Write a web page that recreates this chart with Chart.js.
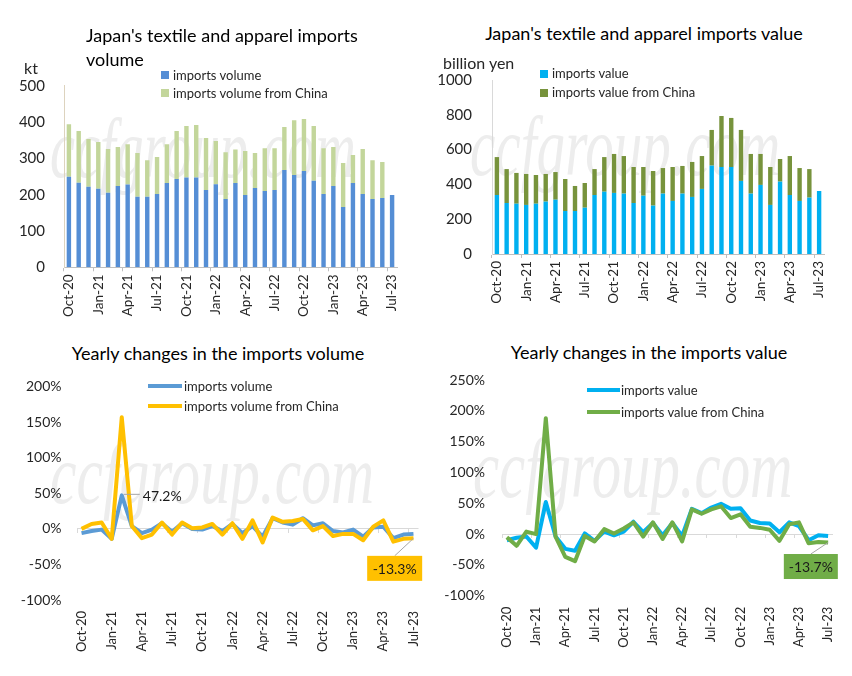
<!DOCTYPE html>
<html><head><meta charset="utf-8">
<script src="https://cdn.jsdelivr.net/npm/chart.js@4.4.0/dist/chart.umd.min.js"></script>
<style>
body{margin:0;background:#fff;width:852px;height:676px;overflow:hidden;position:relative;font-family:Lato,sans-serif;}
.abs{position:absolute;white-space:nowrap;}
canvas{position:absolute;}
.wm{position:absolute;font-family:'Liberation Serif',serif;font-style:italic;font-size:84px;color:#ededed;transform-origin:0 0;line-height:1;white-space:nowrap;}
.title{font-size:18px;color:#000;line-height:24px;}
.leg{font-size:13px;color:#262626;line-height:16px;}
.sq{position:absolute;width:8px;height:8px;}
.ln{position:absolute;height:4px;}
.unit{font-size:16px;color:#262626;line-height:18px;}
</style></head><body>

<div class="wm" style="left:50px;top:107px;transform:scaleX(0.67)">ccfgroup.com</div>
<div class="wm" style="left:470px;top:105px;transform:scaleX(0.68)">ccfgroup.com</div>
<div class="wm" style="left:50px;top:433px;transform:scaleX(0.71)">ccfgroup.com</div>
<div class="wm" style="left:473px;top:427px;transform:scaleX(0.70)">ccfgroup.com</div>

<canvas id="c1" width="430" height="270" style="left:0;top:60px"></canvas>
<canvas id="c2" width="422" height="270" style="left:430px;top:60px"></canvas>
<canvas id="c3" width="430" height="306" style="left:0;top:370px"></canvas>
<canvas id="c4" width="422" height="306" style="left:430px;top:370px"></canvas>

<div class="abs title" style="left:86px;top:23px">Japan's textile and apparel imports<br>volume</div>
<div class="abs title" style="left:444px;width:400px;text-align:center;top:21px">Japan's textile and apparel imports value</div>
<div class="abs title" style="left:18px;width:400px;text-align:center;top:341px">Yearly changes in the imports volume</div>
<div class="abs title" style="left:449px;width:400px;text-align:center;top:340px">Yearly changes in the imports value</div>

<div class="abs unit" style="left:24px;top:59px">kt</div>
<div class="abs unit" style="left:443px;top:54px">billion yen</div>

<div class="sq" style="left:161px;top:71px;background:#558ED5"></div>
<div class="abs leg" style="left:173px;top:67px">imports volume</div>
<div class="sq" style="left:161px;top:89px;background:#C3D69B"></div>
<div class="abs leg" style="left:173px;top:85px">imports volume from China</div>

<div class="sq" style="left:540px;top:70px;background:#00B0F0"></div>
<div class="abs leg" style="left:552px;top:65px">imports value</div>
<div class="sq" style="left:540px;top:89px;background:#77933C"></div>
<div class="abs leg" style="left:552px;top:84px">imports value from China</div>

<div class="ln" style="left:148px;top:384px;width:34px;background:#5B9BD5"></div>
<div class="abs leg" style="left:184px;top:378px">imports volume</div>
<div class="ln" style="left:148px;top:404px;width:34px;background:#FFC000"></div>
<div class="abs leg" style="left:184px;top:398px">imports volume from China</div>

<div class="ln" style="left:587px;top:388px;width:33px;background:#00B0F0"></div>
<div class="abs leg" style="left:621px;top:382px">imports value</div>
<div class="ln" style="left:587px;top:410px;width:33px;background:#70AD47"></div>
<div class="abs leg" style="left:621px;top:404px">imports value from China</div>

<script>
const months = ['Oct-20','Nov-20','Dec-20','Jan-21','Feb-21','Mar-21','Apr-21','May-21','Jun-21','Jul-21','Aug-21','Sep-21',
  'Oct-21','Nov-21','Dec-21','Jan-22','Feb-22','Mar-22','Apr-22','May-22','Jun-22','Jul-22','Aug-22','Sep-22',
  'Oct-22','Nov-22','Dec-22','Jan-23','Feb-23','Mar-23','Apr-23','May-23','Jun-23','Jul-23'];

// kt
const importsVolume = [249,233,222,216,205,224,228,194,194,202,232,243,247,247,213,229,188,232,199,218,210,213,268,254,265,238,202,224,166,232,202,188,191,199];
const importsVolumeChina = [145,142,131,129,121,107,111,121,101,102,107,132,142,145,143,119,129,92,121,97,118,115,118,151,143,151,126,107,121,77,124,107,99,null];

// billion yen
const importsValue = [339,293,289,282,289,301,312,247,247,266,339,358,351,347,293,335,278,347,305,347,328,374,508,500,500,420,347,397,282,416,339,305,324,362];
const importsValueChina = [218,195,177,178,165,159,159,184,144,142,149,199,224,216,207,165,199,147,195,159,201,189,205,293,282,293,228,178,218,130,224,189,164,null];

// yearly change, %
const volumeYoY = [-6,-3,-1,-14,47.2,4,-6,-1,8,-4,8,0,-1,4,-3,7,-6,4,-11,15,9,6,15,5,8,-3,-5,-1,-11,2,3,-13,-8,-7];
const volumeChinaYoY = [0,7,9,-14,157,4,-13,-8,9,-8,9,1,2,7,-8,8,-14,12,-19,16,10,11,14,-2,4,-10,-7,-7,-16,3,12,-18,-14,-13.3];
const valueYoY = [-10,-6,-4,-22,52,-4,-24,-27,1,-11,4,-2,4,20,3,18,-2,18,-3,41,34,43,49,41,42,22,18,17,3,19,13,-10,-2,-3];
const valueChinaYoY = [-5,-19,4,0,188,-4,-37,-44,-3,-12,8,1,9,19,-4,19,-8,19,-12,40,33,40,45,26,32,12,10,7,-11,16,19,-15,-13,-13.7];

const volTicks = [0,100,200,300,400,500];
const valTicks = [0,200,400,600,800,1000];

Chart.defaults.font.family = 'Lato, sans-serif';
Chart.defaults.color = '#262626';

function layout(box, plot){
  return {autoPadding:false, padding:{left:0, top:plot.t-box.top, right:box.left+box.w-plot.r, bottom:0}};
}
function xAxis(box, plot, size, pad, axisTicks){
  return {
    type:'category', offset:true, stacked:true,
    afterFit: s => { s.height = box.top+box.h-plot.b; s.paddingLeft = 0; s.paddingRight = 0; },
    border:{display:axisTicks, color:'#BFBFBF'},
    grid:{display:axisTicks, drawOnChartArea:false, drawTicks:true, tickLength:4, offset:true,
      color: c => (c.index%3===0 ? '#BFBFBF' : 'rgba(0,0,0,0)')},
    ticks:{autoSkip:false, minRotation:90, maxRotation:90, padding:pad, font:{size:size}, color:'#262626',
      callback: function(v,i){ return i%3===0 ? this.getLabelForValue(v) : ''; }}
  };
}
function yFit(box, plot){
  return s => { s.width = plot.l-box.left; s.paddingTop = 0; s.paddingBottom = 0; };
}

const zeroTicks = {
  id:'zeroTicks',
  beforeDatasetsDraw(chart){
    const xs = chart.scales.x, ys = chart.scales.y, ctx = chart.ctx;
    const y0 = Math.round(ys.getPixelForValue(0));
    const half = (xs.getPixelForValue(1)-xs.getPixelForValue(0))/2;
    ctx.save(); ctx.strokeStyle='#D9D9D9'; ctx.lineWidth=1;
    for(let i=0;i<xs.getLabels().length;i+=3){
      const x = Math.round(xs.getPixelForValue(i)-half)+0.5;
      ctx.beginPath(); ctx.moveTo(x,y0); ctx.lineTo(x,y0+4); ctx.stroke();
    }
    ctx.restore();
  }
};
const callout = {
  id:'callout',
  afterDatasetsDraw(chart, args, o){
    if(!o || !o.items) return;
    const ctx = chart.ctx;
    o.items.forEach(it => {
      const p = chart.getDatasetMeta(it.ds).data[it.i];
      const v = chart.data.datasets[it.ds].data[it.i];
      const text = v.toFixed(1)+'%';
      ctx.save();
      ctx.font = '14px Lato';
      ctx.strokeStyle = '#A6A6A6'; ctx.lineWidth = 1;
      if(it.box){
        const rx = p.x+it.dx, ry = p.y+it.dy;
        ctx.beginPath(); ctx.moveTo(p.x,p.y); ctx.lineTo(rx+it.w/2, ry); ctx.stroke();
        ctx.fillStyle = it.bg; ctx.fillRect(rx, ry, it.w, it.h);
        ctx.fillStyle = '#1a1a1a'; ctx.textAlign='center'; ctx.textBaseline='middle';
        ctx.fillText(text, rx+it.w/2, ry+it.h/2+1);
      } else {
        ctx.beginPath(); ctx.moveTo(p.x+2,p.y-1); ctx.lineTo(p.x+18,p.y-1); ctx.stroke();
        ctx.fillStyle = '#1a1a1a'; ctx.textAlign='left'; ctx.textBaseline='middle';
        ctx.fillText(text, p.x+21, p.y+1);
      }
      ctx.restore();
    });
  }
};

function barChart(id, box, plot, d1, d2, c1, c2, ticks, yColor, yPad){
  return new Chart(document.getElementById(id), {
    type:'bar',
    data:{labels:months, datasets:[
      {data:d1, backgroundColor:c1, barPercentage:0.45, categoryPercentage:1},
      {data:d2, backgroundColor:c2, barPercentage:0.45, categoryPercentage:1}
    ]},
    options:{
      responsive:false, animation:false, devicePixelRatio:1,
      layout:layout(box,plot),
      plugins:{legend:{display:false}, tooltip:{enabled:false}},
      scales:{
        x:xAxis(box,plot,13.5,3,true),
        y:{stacked:true, min:ticks[0], max:ticks[ticks.length-1],
          afterFit: yFit(box,plot),
          afterBuildTicks: s => { s.ticks = ticks.map(v=>({value:v})); },
          border:{display:true, color:yColor},
          grid:{display:false, drawTicks:false},
          ticks:{padding:yPad, font:{size:15}, color:'#262626', callback:v=>String(v)}}
      }
    }
  });
}

function lineChart(id, box, plot, d1, d2, c1, c2, ymax, yPad, items){
  return new Chart(document.getElementById(id), {
    type:'line',
    data:{labels:months, datasets:[
      {data:d1, borderColor:c1, borderWidth:4, pointRadius:0, tension:0, fill:false, borderJoinStyle:'round', order:1},
      {data:d2, borderColor:c2, borderWidth:4, pointRadius:0, tension:0, fill:false, borderJoinStyle:'round', order:0}
    ]},
    plugins:[zeroTicks, callout],
    options:{
      responsive:false, animation:false, devicePixelRatio:1,
      layout:layout(box,plot),
      plugins:{legend:{display:false}, tooltip:{enabled:false}, callout:{items:items}},
      scales:{
        x:Object.assign(xAxis(box,plot,13,7,false), {stacked:false}),
        y:{min:-100, max:ymax,
          afterFit: yFit(box,plot),
          border:{display:false},
          grid:{drawTicks:false, color: c => (c.tick && c.tick.value===0 ? '#D9D9D9' : 'rgba(0,0,0,0)')},
          ticks:{stepSize:50, padding:yPad, font:{size:14}, color:'#262626', callback:v=>v+'%'}}
      }
    }
  });
}

barChart('c1', {left:0,top:60,w:430,h:270}, {l:64,t:85.7,r:397,b:267.3},
  importsVolume, importsVolumeChina, '#558ED5', '#C3D69B', volTicks, '#DDD3BE', 19);
barChart('c2', {left:430,top:60,w:422,h:270}, {l:492,t:80,r:824,b:254},
  importsValue, importsValueChina, '#00B0F0', '#77933C', valTicks, '#D9D9D9', 20);

lineChart('c3', {left:0,top:370,w:430,h:306}, {l:76.5,t:386.7,r:418.5,b:600},
  volumeYoY, volumeChinaYoY, '#5B9BD5', '#FFC000', 200, 15,
  [{ds:0, i:4, box:false},
   {ds:1, i:33, box:true, dx:-46.3, dy:17.5, w:55, h:25, bg:'#FFC000'}]);
lineChart('c4', {left:430,top:370,w:422,h:306}, {l:502,t:380,r:833,b:595.7},
  valueYoY, valueChinaYoY, '#00B0F0', '#70AD47', 250, 17,
  [{ds:1, i:33, box:true, dx:-44.3, dy:11.5, w:54, h:25, bg:'#70AD47'}]);
</script>
</body></html>
